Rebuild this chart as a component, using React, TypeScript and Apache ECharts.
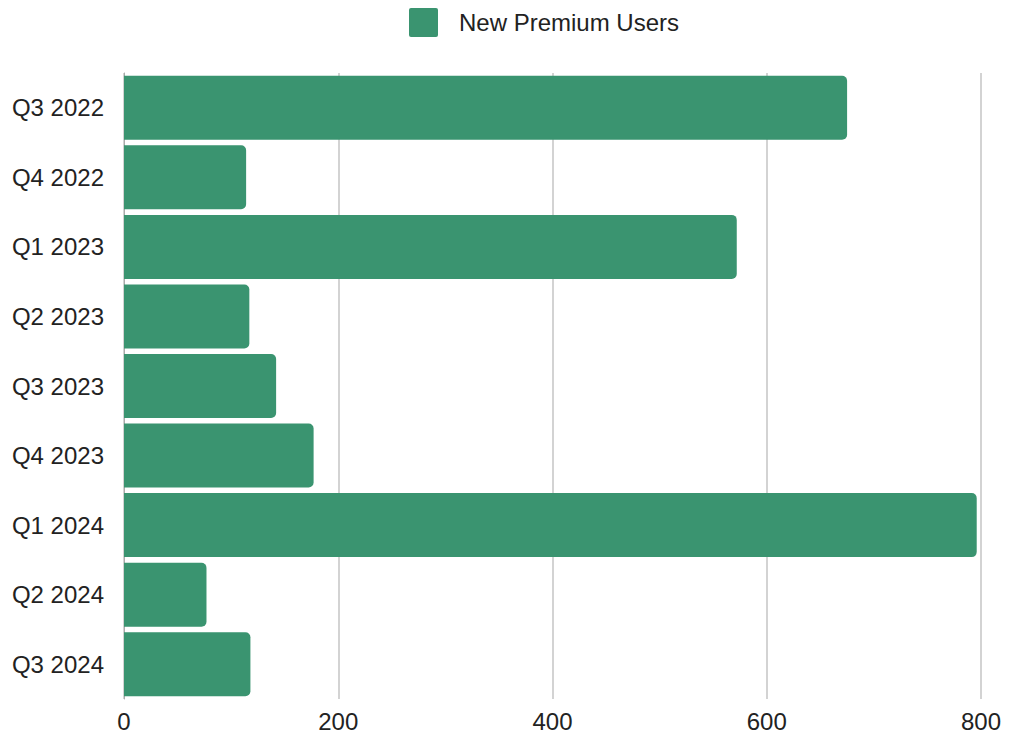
import React, { useEffect, useRef } from "react";
import * as echarts from "echarts";

const categories = ["Q3 2022", "Q4 2022", "Q1 2023", "Q2 2023", "Q3 2023", "Q4 2023", "Q1 2024", "Q2 2024", "Q3 2024"];
const newPremiumUsers = [675, 114, 572, 117, 142, 177, 796, 77, 118];
const seriesName = "New Premium Users";

export default function App() {
  const ref = useRef<HTMLDivElement>(null);
  useEffect(() => {
    document.body.style.margin = "0";
    const chart = echarts.init(ref.current!, null, { renderer: "svg" });
    chart.setOption({
      animation: false,
      textStyle: { fontFamily: "Liberation Sans, Arial, sans-serif" },
      legend: {
        data: [seriesName],
        left: 409,
        top: 8,
        padding: 0,
        itemWidth: 29,
        itemHeight: 29,
        icon: "path://M2,0 H27 Q29,0 29,2 V27 Q29,29 27,29 H2 Q0,29 0,27 V2 Q0,0 2,0 Z",
        textStyle: { fontSize: 24, color: "#222", padding: [0, 0, 0, 16] },
      },
      grid: { left: 124, right: 40, top: 73, bottom: 36, containLabel: false },
      xAxis: {
        type: "value",
        min: 0,
        max: 800,
        interval: 200,
        axisLabel: { fontSize: 24, color: "#222", margin: 10 },
        axisLine: { show: false },
        axisTick: { show: false },
        splitLine: { show: true, lineStyle: { color: "#c4c4c4", width: 1.5 } },
      },
      yAxis: {
        type: "category",
        data: categories,
        inverse: true,
        axisLabel: { fontSize: 24, color: "#222", margin: 20, padding: [0, 0, 6, 0] },
        axisLine: { show: true, lineStyle: { color: "#aaa", width: 1 } },
        axisTick: { show: false },
        splitLine: { show: false },
      },
      series: [
        {
          name: seriesName,
          type: "bar",
          data: newPremiumUsers,
          barWidth: 64,
          itemStyle: { color: "#3a9470", borderRadius: [0, 5, 5, 0] },
        },
      ],
    });
    return () => chart.dispose();
  }, []);
  return <div ref={ref} style={{ width: 1021, height: 735 }} />;
}
